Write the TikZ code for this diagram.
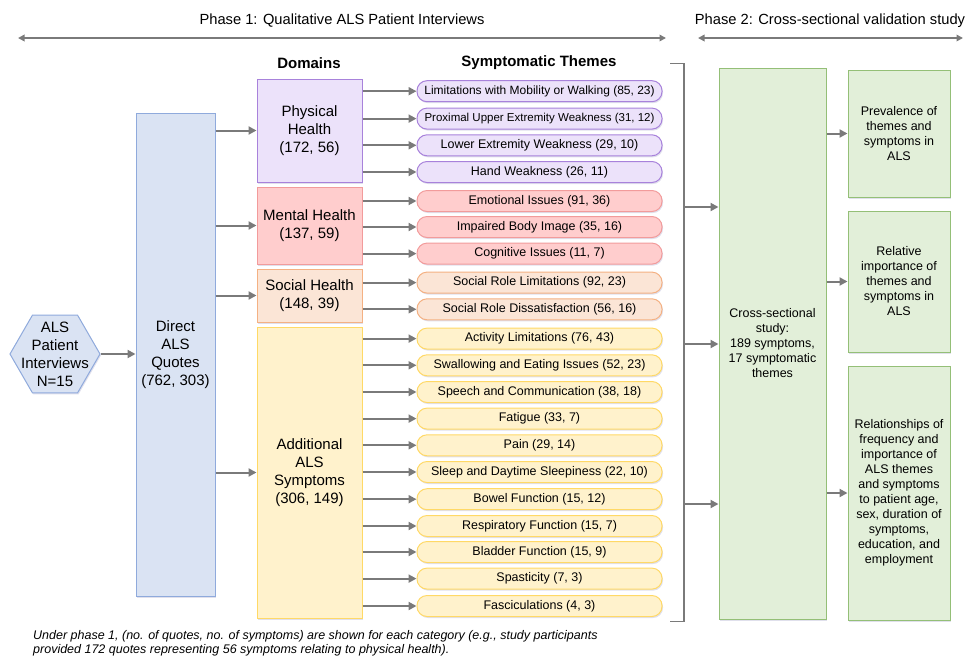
\documentclass[tikz,border=0pt]{standalone}
\usepackage{fontspec}
\setmainfont{Liberation Sans}
\usetikzlibrary{arrows.meta,shapes.geometric,shadows}
\definecolor{arrgray}{HTML}{7A7A7A}
\definecolor{bluef}{HTML}{DAE3F3}\definecolor{blues}{HTML}{8FAADC}
\definecolor{purf}{HTML}{ECE2FA}\definecolor{purs}{HTML}{A882DB}
\definecolor{redf}{HTML}{FFCDCD}\definecolor{reds}{HTML}{F29B9B}
\definecolor{orf}{HTML}{FBE5D6}\definecolor{ors}{HTML}{F4B183}
\definecolor{yelf}{HTML}{FFF2CC}\definecolor{yels}{HTML}{FFD966}
\definecolor{grf}{HTML}{E2EFD9}\definecolor{grs}{HTML}{94BF77}
\begin{document}
\begin{tikzpicture}[x=1pt,y=-1pt,
  arr/.style={draw=arrgray, line width=2pt, -{Triangle[length=8pt,width=8pt]}},
  darr/.style={draw=arrgray, line width=2pt, {Triangle[length=6.5pt,width=6.5pt]}-{Triangle[length=6.5pt,width=6.5pt]}},
  shad/.style={drop shadow={shadow xshift=1pt,shadow yshift=-1.5pt,opacity=0.12,fill=blue!40!black}},
  box/.style={draw, line width=1pt, align=center, inner sep=2pt, shad},
  big/.style={font=\fontsize{15}{18}\selectfont},
  small/.style={font=\fontsize{12.5}{15}\selectfont},
  dom/.style={box, big, minimum width=105pt},
  pill/.style={box, rounded corners=10pt, minimum width=245pt, minimum height=21pt, font=\fontsize{12.5}{15}\selectfont},
  purp/.style={fill=purf, draw=purs},
  redb/.style={fill=redf, draw=reds},
  orb/.style={fill=orf, draw=ors},
  yelb/.style={fill=yelf, draw=yels},
  grb/.style={box, small, fill=grf, draw=grs},
  hdr/.style={font=\bfseries\fontsize{15}{18}\selectfont},
  ttl/.style={font=\fontsize{14.7}{17}\selectfont}
]
\useasboundingbox (0,0) rectangle (967,657);

% phase titles and arrows
\node[ttl] (ph1) at (342,21) {Phase 1: Qualitative ALS Patient Interviews};
\node[ttl] (ph2) at (830,21) {Phase 2: Cross-sectional validation study};
\coordinate (p1l) at (18,38); \coordinate (p1r) at (666,38);
\coordinate (p2l) at (698,38); \coordinate (p2r) at (963,38);
\draw[darr] (p1l) -- (p1r);
\draw[darr] (p2l) -- (p2r);

\node[hdr] (hdom) at (309,63) {Domains};
\node[hdr] (hthm) at (539,63) {Symptomatic Themes};

% hexagon
\node[regular polygon, regular polygon sides=6, minimum size=90pt, inner sep=0pt,
      draw=blues, fill=bluef, line width=1pt, shad] (hex) at (55,354) {};
\node[big, align=center, inner sep=0pt] (hext) at (hex.center) {ALS\\Patient\\Interviews\\N=15};

% direct quotes
\node[box, big, fill=bluef, draw=blues, minimum width=79pt, minimum height=483pt] (dq) at (175.5,354.5) {Direct\\ALS\\Quotes\\(762, 303)};

% domains
\node[dom, purp, minimum height=103pt] (phys) at (309.5,130.5) {Physical\\Health\\(172, 56)};
\node[dom, redb, minimum height=77pt] (ment) at (309.5,225.5) {Mental Health\\(137, 59)};
\node[dom, orb, minimum height=53pt] (soc) at (309.5,295.5) {Social Health\\(148, 39)};
\node[dom, yelb, minimum height=291pt] (add) at (309.5,472.5) {Additional\\ALS\\Symptoms\\(306, 149)};

% themes
\node[pill, purp, font=\fontsize{12}{14}\selectfont] (t1) at (539.5,91.2) {Limitations with Mobility or Walking (85, 23)};
\node[pill, purp, font=\fontsize{11.5}{14}\selectfont] (t2) at (539.5,118.6) {Proximal Upper Extremity Weakness (31, 12)};
\node[pill, purp] (t3) at (539.5,145.3) {Lower Extremity Weakness (29, 10)};
\node[pill, purp] (t4) at (539.5,172) {Hand Weakness (26, 11)};
\node[pill, redb] (t5) at (539.5,201) {Emotional Issues (91, 36)};
\node[pill, redb] (t6) at (539.5,227) {Impaired Body Image (35, 16)};
\node[pill, redb] (t7) at (539.5,253.6) {Cognitive Issues (11, 7)};
\node[pill, orb] (t8) at (539.5,282.6) {Social Role Limitations (92, 23)};
\node[pill, orb] (t9) at (539.5,309.3) {Social Role Dissatisfaction (56, 16)};
\node[pill, yelb] (t10) at (539.5,338.6) {Activity Limitations (76, 43)};
\node[pill, yelb] (t11) at (539.5,365.3) {Swallowing and Eating Issues (52, 23)};
\node[pill, yelb] (t12) at (539.5,392) {Speech and Communication (38, 18)};
\node[pill, yelb] (t13) at (539.5,418.6) {Fatigue (33, 7)};
\node[pill, yelb] (t14) at (539.5,445.3) {Pain (29, 14)};
\node[pill, yelb] (t15) at (539.5,472) {Sleep and Daytime Sleepiness (22, 10)};
\node[pill, yelb] (t16) at (539.5,499.2) {Bowel Function (15, 12)};
\node[pill, yelb] (t17) at (539.5,526) {Respiratory Function (15, 7)};
\node[pill, yelb] (t18) at (539.5,552) {Bladder Function (15, 9)};
\node[pill, yelb] (t19) at (539.5,578.6) {Spasticity (7, 3)};
\node[pill, yelb] (t20) at (539.5,606) {Fasciculations (4, 3)};

% phase 2 boxes
\node[grb, minimum width=107pt, minimum height=551pt] (cross) at (772.5,343.5) {Cross-sectional\\study:\\189 symptoms,\\17 symptomatic\\themes};
\node[grb, minimum width=102pt, minimum height=127pt] (r1) at (899,133.5) {Prevalence of\\themes and\\symptoms in\\ALS};
\node[grb, minimum width=102pt, minimum height=141pt] (r2) at (899,281.5) {Relative\\importance of\\themes and\\symptoms in\\ALS};
\node[grb, minimum width=102pt, minimum height=254pt] (r3) at (899,493) {Relationships of\\frequency and\\importance of\\ALS themes\\and symptoms\\to patient age,\\sex, duration of\\symptoms,\\education, and\\employment};

% connectors
\draw[arr] (hex.east) -- (dq.west |- hex.east);
\foreach \d in {phys,ment,soc,add} \draw[arr] (dq.east |- \d.west) -- (\d.west);
\foreach \t in {t1,t2,t3,t4} \draw[arr] (phys.east |- \t.west) -- (\t.west);
\foreach \t in {t5,t6,t7} \draw[arr] (ment.east |- \t.west) -- (\t.west);
\foreach \t in {t8,t9} \draw[arr] (soc.east |- \t.west) -- (\t.west);
\foreach \t in {t10,t11,t12,t13,t14,t15,t16,t17,t18,t19,t20} \draw[arr] (add.east |- \t.west) -- (\t.west);

% bracket
\coordinate (bt0) at (670,63.5); \coordinate (bt1) at (684,63.5);
\coordinate (bb1) at (684,621.5); \coordinate (bb0) at (670,621.5);
\draw[draw=arrgray, line width=1.7pt] (bt0) -- (bt1) -- (bb1) -- (bb0);
\coordinate (b1) at (684,207); \coordinate (b2) at (684,344); \coordinate (b3) at (684,504);
\foreach \b in {b1,b2,b3} \draw[arr] (\b) -- (\b -| cross.west);
\foreach \r in {r1,r2,r3} \draw[arr] (cross.east |- \r.west) -- (\r.west);

% caption
\node[anchor=north west, align=left, inner sep=0pt, font=\itshape\fontsize{12.5}{14}\selectfont] (cap) at (33,630.5)
 {Under phase 1, (no. of quotes, no. of symptoms) are shown for each category (e.g., study participants\\
  provided 172 quotes representing 56 symptoms relating to physical health).};
\end{tikzpicture}
\end{document}
